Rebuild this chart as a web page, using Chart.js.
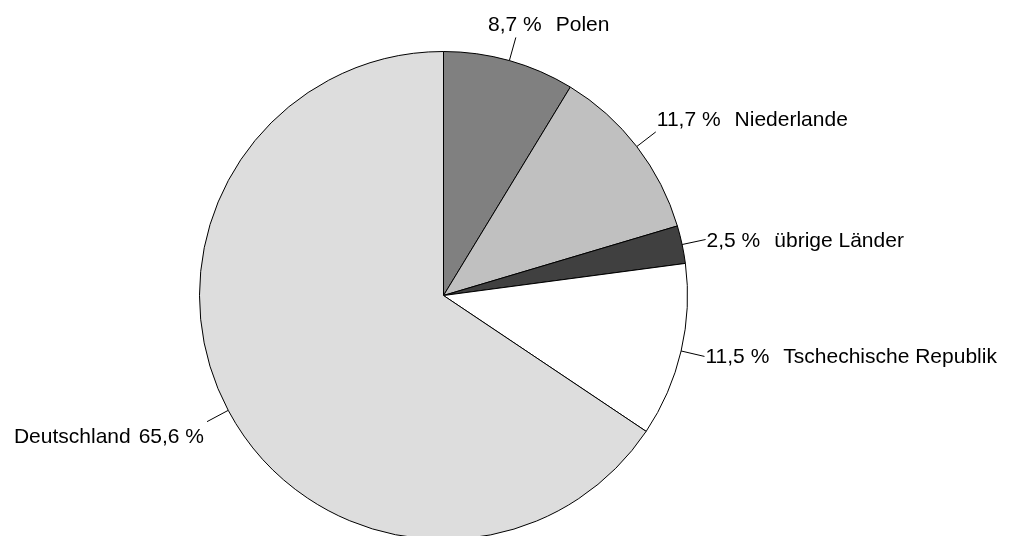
<!DOCTYPE html>
<html>
<head>
<meta charset="utf-8">
<script src="https://cdn.jsdelivr.net/npm/chart.js@4/dist/chart.umd.min.js"></script>
<style>
    html, body { margin: 0; padding: 0; background: #fff; overflow: hidden; }
    #wrap { width: 1011px; height: 536px; overflow: hidden; }
</style>
</head>
<body>
<div id="wrap"><canvas id="pie" width="1011" height="560"></canvas></div>
<script>
const countries = ["Polen", "Niederlande", "übrige Länder", "Tschechische Republik", "Deutschland"];
const shares = [8.7, 11.7, 2.5, 11.5, 65.6];
const colors = ["#808080", "#c0c0c0", "#404040", "#ffffff", "#dddddd"];

const ctx = document.getElementById('pie').getContext('2d');

function fmt(v) {
    return v.toFixed(1).replace('.', ',') + ' %';
}

// Draws leader lines and labels next to each slice
const leaderLabels = {
    id: 'leaderLabels',
    afterDatasetsDraw(chart) {
        const c = chart.ctx;
        const arcs = chart.getDatasetMeta(0).data;
        c.save();
        c.font = '21px "Liberation Sans", Arial, sans-serif';
        c.fillStyle = '#000';
        c.strokeStyle = '#000';
        c.lineWidth = 1;
        arcs.forEach((arc, i) => {
            const p = arc.getProps(['x', 'y', 'startAngle', 'endAngle', 'outerRadius'], true);
            const mid = (p.startAngle + p.endAngle) / 2;
            const cos = Math.cos(mid), sin = Math.sin(mid);
            const x0 = p.x + cos * p.outerRadius;
            const y0 = p.y + sin * p.outerRadius;
            const x1 = p.x + cos * (p.outerRadius + 24);
            const y1 = p.y + sin * (p.outerRadius + 24);
            c.beginPath();
            c.moveTo(x0, y0);
            c.lineTo(x1, y1);
            c.stroke();

            const pct = fmt(shares[i]);
            const name = countries[i];
            const pw = c.measureText(pct).width;
            c.textBaseline = 'alphabetic';

            // vertical placement depending on where the leader points
            let by;
            if (sin < -0.4) by = y1 - 6;
            else if (sin > 0.4) by = y1 + 21;
            else by = y1 + 7;

            if (cos >= 0) {
                let lx = x1 + 1;
                if (cos < 0.5) lx = x1 - pw / 2 - 1;
                c.textAlign = 'left';
                c.fillText(pct, lx, by);
                c.fillText(name, lx + pw + 14, by);
            } else {
                const rx = x1 - 3;
                c.textAlign = 'right';
                c.fillText(pct, rx, by);
                c.fillText(name, rx - pw - 8, by);
            }
        });
        c.restore();
    }
};

new Chart(ctx, {
    type: 'pie',
    data: {
        labels: countries,
        datasets: [{
            data: shares,
            backgroundColor: colors,
            borderColor: '#000',
            borderWidth: 1
        }]
    },
    options: {
        responsive: false,
        animation: false,
        layout: {
            padding: { left: 199, right: 323, top: 51, bottom: 20 }
        },
        plugins: {
            legend: { display: false },
            tooltip: { enabled: false }
        }
    },
    plugins: [leaderLabels]
});
</script>
</body>
</html>
